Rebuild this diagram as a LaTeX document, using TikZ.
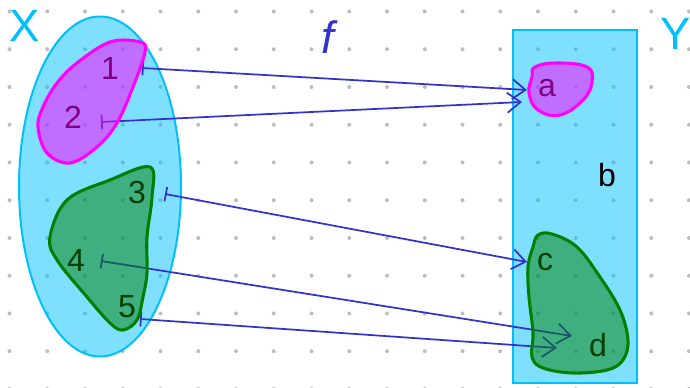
\documentclass[tikz,border=0pt]{standalone}
\usepackage{fontspec}
\setmainfont{Liberation Sans}
\usetikzlibrary{arrows.meta}
\definecolor{skyc}{HTML}{00BFFF}
\definecolor{magc}{HTML}{FF00FF}
\definecolor{grnc}{HTML}{008000}
\definecolor{arrc}{HTML}{3333CC}
\definecolor{dotc}{HTML}{BDBDBD}
\tikzset{
 setfill/.style={draw=skyc, line width=1.5pt, fill=skyc, fill opacity=0.5},
 purpblob/.style={draw=magc, line width=2.3pt, fill=magc, fill opacity=0.5},
 greenblob/.style={draw=grnc, line width=2.3pt, fill=grnc, fill opacity=0.5},
 mapsto/.style={draw=arrc, line width=1.3pt, {Bar[width=11pt]}-{Straight Barb[length=10pt,width=15pt]}},
 elem/.style={font=\fontsize{24}{24}\selectfont, text=black, inner sep=0pt},
 setlab/.style={font=\fontsize{34}{34}\selectfont, text=skyc, inner sep=0pt},
 funlab/.style={font=\fontsize{34}{34}\selectfont\itshape, text=arrc, inner sep=0pt},
}
\begin{document}
\begin{tikzpicture}[x=0.75pt, y=-0.75pt]
\useasboundingbox (0,0) rectangle (690,388);
% dot grid
\foreach \i in {0,...,18} {
  \foreach \j in {0,...,10} {
    \fill[dotc] ({9.5+37.75*\i},{11.5+37.75*\j}) circle (1.5pt);
  }
}
% sets
\draw[setfill] (100,186.5) ellipse [x radius=60.75pt, y radius=127.5pt];
\draw[setfill] (513,30) rectangle (637,383);
% arrow endpoints
\coordinate (s1) at (142,68);  \coordinate (t1) at (527,90);
\coordinate (s2) at (101,122); \coordinate (t2) at (522,102);
\coordinate (s3) at (165,194); \coordinate (t3) at (527,262);
\coordinate (s4) at (101,261); \coordinate (t4) at (572,336);
\coordinate (s5) at (140,319); \coordinate (t5) at (557,348);
\draw[mapsto] (s1) -- (t1);
\draw[mapsto] (s2) -- (t2);
\draw[mapsto] (s3) -- (t3);
\draw[mapsto] (s4) -- (t4);
\draw[mapsto] (s5) -- (t5);
% labels
\node[elem] (n1) at (110,68) {1};
\node[elem] (n2) at (73,117) {2};
\node[elem] (n3) at (137,192) {3};
\node[elem] (n4) at (76,260) {4};
\node[elem] (n5) at (127,307) {5};
\node[elem] (na) at (547,88) {a};
\node[elem] (nb) at (607,175) {b};
\node[elem] (nc) at (545,262) {c};
\node[elem] (nd) at (598,345) {d};
\node[setlab] (lx) at (25,26) {X};
\node[setlab] (ly) at (676,34) {Y};
\node[funlab] (lf) at (328,37) {f};
% blobs
\draw[purpblob] plot[smooth cycle, tension=0.6] coordinates {(57,83) (77,63) (110,42) (140,42) (145,52) (133,87) (117,123) (97,147) (70,163) (47,153) (38,127) (43,107)};
\draw[greenblob] plot[smooth cycle, tension=0.6] coordinates {(150,167) (110,180) (67,200) (50,237) (57,260) (87,297) (110,323) (123,330) (137,320) (143,297) (147,273) (147,237) (152,197)};
\draw[purpblob] plot[smooth cycle, tension=0.7] coordinates {(535,67) (557,63) (587,67) (592,82) (583,100) (560,115) (538,110) (529,93) (532,77)};
\draw[greenblob] plot[smooth cycle, tension=0.6] coordinates {(538,235) (552,234) (577,247) (600,277) (620,310) (628,340) (623,360) (607,370) (573,373) (543,368) (532,357) (533,333) (529,297) (528,267) (533,247)};
\end{tikzpicture}
\end{document}
